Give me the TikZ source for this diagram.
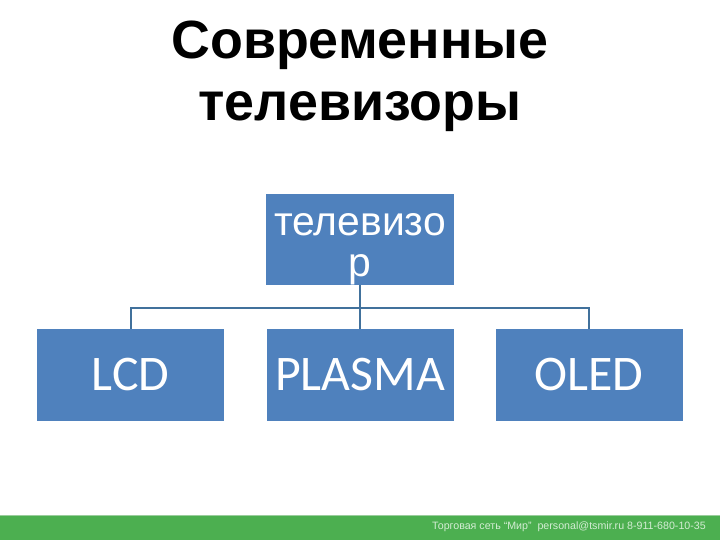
\documentclass[tikz,border=0pt]{standalone}
\usepackage{fontspec}
\setmainfont{Liberation Sans}
\newfontfamily\boxfont{Carlito}
\usetikzlibrary{calc}
\definecolor{boxblue}{HTML}{4F81BD}
\definecolor{linkblue}{HTML}{41719C}
\definecolor{bargreen}{HTML}{4CAF50}
\definecolor{barline}{HTML}{9ACD9C}
\definecolor{foottext}{HTML}{D4EDD4}
\tikzset{
  orgbox/.style={fill=boxblue, draw=none, text=white, inner sep=0pt, align=center},
  leafbox/.style={orgbox, minimum width=187bp, minimum height=92bp, font=\boxfont\fontsize{50}{52}\selectfont},
  link/.style={draw=linkblue, line width=2bp},
}
\begin{document}
\begin{tikzpicture}[x=1bp,y=-1bp]
\useasboundingbox (0,0) rectangle (720,540);
% footer bar
\fill[bargreen] (0,515) rectangle (720,540);
\draw[barline, line width=1bp] (0,515.5) -- (720,515.5);
\node[anchor=east, text=foottext, font=\fontsize{10.7}{12}\selectfont, inner sep=0pt] (foot) at (706,526.5)
  {Торговая сеть “Мир”\ \ personal@tsmir.ru 8-911-680-10-35};
% title
\node[font=\bfseries\fontsize{54}{62}\selectfont, align=center, inner sep=0pt] (title) at (360,76)
  {Современные\\телевизоры};
% boxes
\node[orgbox, minimum width=188bp, minimum height=91bp] (tv) at (360,239.5) {};
\node[text=white, align=center, inner sep=0pt, font=\fontsize{41}{41}\selectfont] (tvtext) at ([yshift=-10bp]tv.center)
  {телевизо\\р};
\node[leafbox] (lcd) at (130.5,375) {LCD};
\node[leafbox] (plasma) at (360,375) {PLASMA};
\node[leafbox] (oled) at (589,375) {OLED};
% connectors
\path (tv.south) -- (plasma.north) coordinate[pos=0.53] (mid);
\draw[link] (tv.south) -- (plasma.north);
\draw[link] (lcd.north) |- (mid) -| (oled.north);
\end{tikzpicture}
\end{document}
